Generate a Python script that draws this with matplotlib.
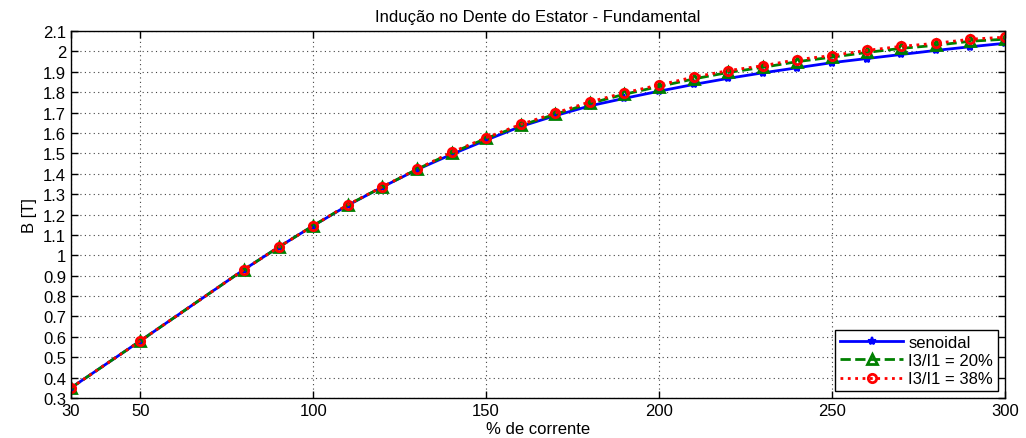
import numpy as np
import matplotlib
matplotlib.use("Agg")
import matplotlib.pyplot as plt

plt.rcParams['font.family'] = ['Liberation Sans', 'DejaVu Sans']

corrente = [30, 50, 80, 90, 100, 110, 120, 130, 140, 150, 160, 170, 180,
            190, 200, 210, 220, 230, 240, 250, 260, 270, 280, 290, 300]
b_senoidal = [0.35, 0.58, 0.93, 1.04, 1.145, 1.245, 1.335, 1.42, 1.495, 1.565,
              1.632, 1.685, 1.733, 1.77, 1.805, 1.838, 1.868, 1.895, 1.92,
              1.945, 1.965, 1.985, 2.005, 2.023, 2.04]
b_20 = [0.35, 0.58, 0.93, 1.04, 1.145, 1.247, 1.335, 1.422, 1.502, 1.573,
        1.637, 1.692, 1.745, 1.79, 1.828, 1.865, 1.897, 1.922, 1.95, 1.972,
        1.995, 2.015, 2.03, 2.05, 2.06]
b_38 = [0.35, 0.58, 0.93, 1.04, 1.145, 1.248, 1.336, 1.423, 1.505, 1.577,
        1.642, 1.698, 1.753, 1.797, 1.836, 1.874, 1.906, 1.93, 1.96, 1.98,
        2.005, 2.025, 2.04, 2.06, 2.07]
xticks = [30, 50, 100, 150, 200, 250, 300]
yticks = np.round(np.arange(0.3, 2.11, 0.1), 1)

fig = plt.figure(figsize=(10.26, 4.39), dpi=100)
ax = fig.add_axes([0.0692, 0.091, 0.9103, 0.836])

ax.plot(corrente, b_senoidal, '-', color='#0000ff', lw=2, marker='*', ms=6,
        mew=1.5, label='senoidal')
ax.plot(corrente, b_20, '--', color='#008000', lw=2, marker='^', ms=6.5,
        mfc='none', mew=2, label='I3/I1 = 20%')
ax.plot(corrente, b_38, ':', color='#ff0000', lw=2, marker='o', ms=6,
        mfc='none', mew=2, label='I3/I1 = 38%')

ax.set_xlim(30, 300)
ax.set_ylim(0.3, 2.1)
ax.set_xticks(xticks)
ax.set_yticks(yticks)
ax.set_yticklabels([('%g' % v) for v in yticks])
ax.tick_params(direction='in', top=True, right=True, labelsize=12,
               length=5, width=1)
ax.grid(True, linestyle=(0, (1, 3)), color='#444444', lw=0.8)
for s in ax.spines.values():
    s.set_linewidth(1)

ax.set_title('Indução no Dente do Estator - Fundamental', fontsize=12, pad=7)
ax.set_xlabel('% de corrente', fontsize=12, labelpad=2)
ax.set_ylabel('B [T]', fontsize=12, labelpad=4)

leg = ax.legend(loc='lower right', fontsize=12, handlelength=3.8,
                fancybox=False, edgecolor='black', framealpha=1,
                borderaxespad=0.4, labelspacing=0.2, handletextpad=0.3,
                borderpad=0.3)
leg.get_frame().set_linewidth(1)

fig.savefig('out.png', dpi=100)
